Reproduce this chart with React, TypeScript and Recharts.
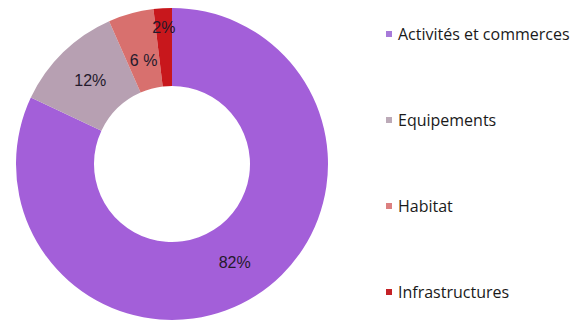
import React from 'react';
import { PieChart, Pie, Cell, Legend } from 'recharts';

const categories = ['Activités et commerces', 'Equipements', 'Habitat', 'Infrastructures'];
const values = [82, 11.4, 4.7, 1.9];
const labels = ['82%', '12%', '6 %', '2%'];
const colors = ['#a35fd9', '#b7a0b2', '#d8706e', '#c8171c'];
const legendColors = ['#a77ad9', '#bcaab8', '#dc8080', '#c42227'];

const data = categories.map((name, i) => ({ name, value: values[i], label: labels[i] }));

const RAD = Math.PI / 180;

// where the label sits across the ring (0 = inner edge, 1 = outer edge)
const ringPos = (v: number) => (v < 3 ? 0.75 : v < 6 ? 0.38 : 0.5);

const renderLabel = (props: any) => {
  const { cx, cy, midAngle, innerRadius, outerRadius, index } = props;
  const r = innerRadius + (outerRadius - innerRadius) * ringPos(values[index]);
  const x = cx + r * Math.cos(-midAngle * RAD);
  const y = cy + r * Math.sin(-midAngle * RAD);
  return (
    <text x={x} y={y} fill="#241a2c" fontSize={16} fontFamily="'Liberation Sans', Arial, sans-serif"
      textAnchor="middle" dominantBaseline="central">
      {labels[index]}
    </text>
  );
};

const renderLegend = () => (
  <div style={{ display: 'flex', flexDirection: 'column' }}>
    {categories.map((c, i) => (
      <div key={c} style={{ display: 'flex', alignItems: 'center', height: 86 }}>
        <span style={{ width: 6, height: 6, background: legendColors[i], marginRight: 6, flexShrink: 0 }} />
        <span style={{ fontSize: 16, color: '#1a1a1a', fontFamily: "'Open Sans', sans-serif" }}>{c}</span>
      </div>
    ))}
  </div>
);

export default function App() {
  return (
    <div style={{ width: 586, height: 324, background: '#fff' }}>
      <style>{'body{margin:0}'}</style>
      <PieChart width={586} height={324} margin={{ top: 0, right: 0, bottom: 0, left: 0 }}>
        <Pie
          data={data}
          dataKey="value"
          cx={172}
          cy={164}
          innerRadius={78}
          outerRadius={156}
          startAngle={90}
          endAngle={-270}
          stroke="none"
          label={renderLabel}
          labelLine={false}
          isAnimationActive={false}
        >
          {data.map((d, i) => (
            <Cell key={d.name} fill={colors[i]} />
          ))}
        </Pie>
        <Legend
          layout="vertical"
          verticalAlign="top"
          align="right"
          content={renderLegend}
          wrapperStyle={{ left: 386, top: -9, width: 200 }}
        />
      </PieChart>
    </div>
  );
}
